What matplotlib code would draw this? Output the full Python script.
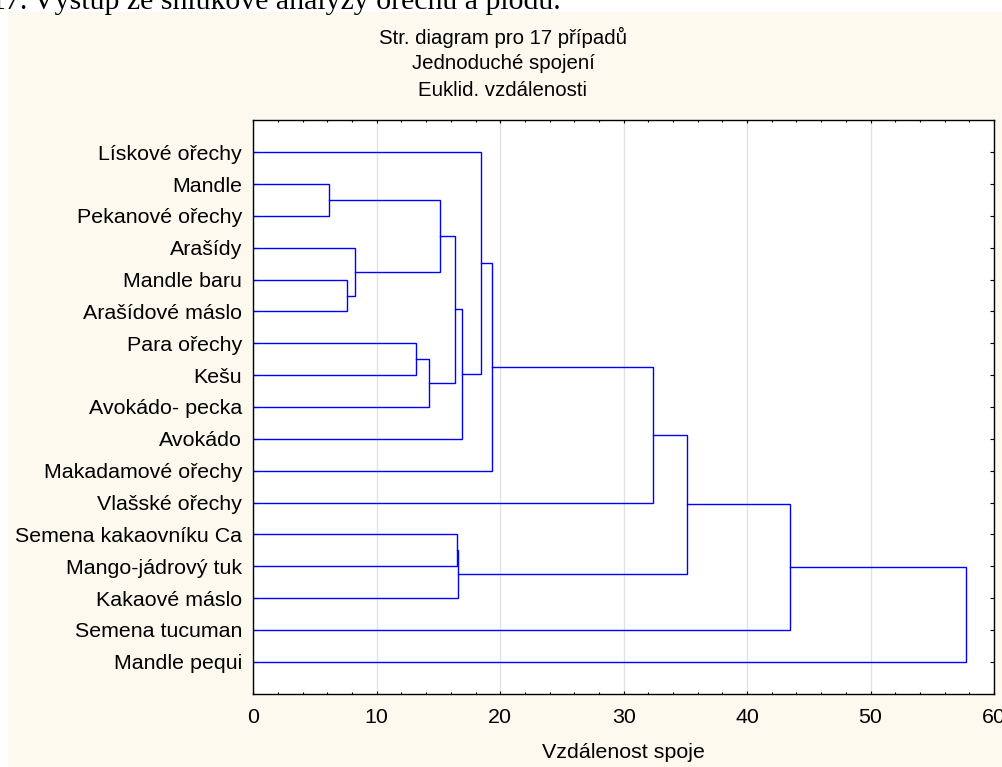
import matplotlib
matplotlib.use('Agg')
import matplotlib.pyplot as plt
from matplotlib.patches import Rectangle
from matplotlib.ticker import MultipleLocator

plt.rcParams['font.family'] = ['Liberation Sans', 'DejaVu Sans']

# leaves in the order they appear from top to bottom
labels = [
    'Lískové ořechy', 'Mandle', 'Pekanové ořechy', 'Arašídy', 'Mandle baru',
    'Arašídové máslo', 'Para ořechy', 'Kešu', 'Avokádo- pecka', 'Avokádo',
    'Makadamové ořechy', 'Vlašské ořechy', 'Semena kakaovníku Ca',
    'Mango-jádrový tuk', 'Kakaové máslo', 'Semena tucuman', 'Mandle pequi',
]

# single linkage steps: (cluster a, cluster b, distance);
# every step creates cluster number len(labels) + step index
merge_a = [1, 4, 3, 6, 20, 17, 22, 12, 24, 23, 0, 27, 28, 29, 30, 31]
merge_b = [2, 5, 18, 7, 8, 19, 21, 13, 14, 9, 26, 10, 11, 25, 15, 16]
merge_dist = [6.1, 7.6, 8.2, 13.2, 14.2, 15.1, 16.35, 16.5, 16.55, 16.9,
              18.45, 19.35, 32.35, 35.1, 43.45, 57.75]

x_ticks = [0, 10, 20, 30, 40, 50, 60]
title_lines = ['Str. diagram pro 17 případů', 'Jednoduché spojení', 'Euklid. vzdálenosti']

W, H = 1003, 767
fig = plt.figure(figsize=(W / 100, H / 100), dpi=100, facecolor='white')
fig.add_artist(Rectangle((8 / W, 0), 1 - 8 / W, 1 - 12 / H, transform=fig.transFigure,
                         facecolor='#FDF9EF', edgecolor='none', zorder=-10))

# caption above the panel (only its lower part fits on the page)
fig.text(28 / W, 1 - 9 / H, '17.', family='Liberation Serif', fontsize=21.5,
         ha='right', va='baseline')
fig.text(33 / W, 1 - 9 / H, 'Výstup ze shlukové analýzy ořechů a plodů.',
         family='Liberation Serif', fontsize=21.5, ha='left', va='baseline')

for i, line in enumerate(title_lines):
    fig.text(503 / W, 1 - (37 + 26.5 * i) / H, line, ha='center', va='center', fontsize=14.7)

ax = fig.add_axes([253.3 / W, 1 - 693.7 / H, (994 - 253.3) / W, (693.7 - 120.3) / H])
ax.set_facecolor('white')

n = len(labels)
pos = {i: (0.0, float(i)) for i in range(n)}
for k, (a, b, d) in enumerate(zip(merge_a, merge_b, merge_dist)):
    xa, ya = pos[a]
    xb, yb = pos[b]
    ax.plot([xa, d, d, xb], [ya, ya, yb, yb], color='#0000FF', lw=1.0, solid_joinstyle='miter')
    pos[n + k] = (d, (ya + yb) / 2)

ax.set_xlim(0, 60)
ax.set_ylim(n, -1)
ax.set_xticks(x_ticks)
ax.xaxis.set_minor_locator(MultipleLocator(2))
ax.set_yticks(range(n))
ax.set_yticklabels(labels)
ax.grid(axis='x', which='major', color='#E2E2E2', lw=1.0)
ax.set_axisbelow(True)

ax.tick_params(axis='both', which='both', direction='in', top=True, right=True,
               labelsize=15.4, width=0.8, color='black')
ax.tick_params(axis='x', which='major', length=2.5, pad=10)
ax.tick_params(axis='x', which='minor', length=1.5)
ax.tick_params(axis='y', which='major', length=3, pad=8)
for s in ax.spines.values():
    s.set_linewidth(1.0)

ax.set_xlabel('Vzdálenost spoje', fontsize=15.4)
ax.xaxis.set_label_coords(0.5, -(752 - 693.7) / (693.7 - 120.3))
ax.xaxis.label.set_verticalalignment('center')

fig.savefig('out.png', dpi=100, facecolor=fig.get_facecolor())
